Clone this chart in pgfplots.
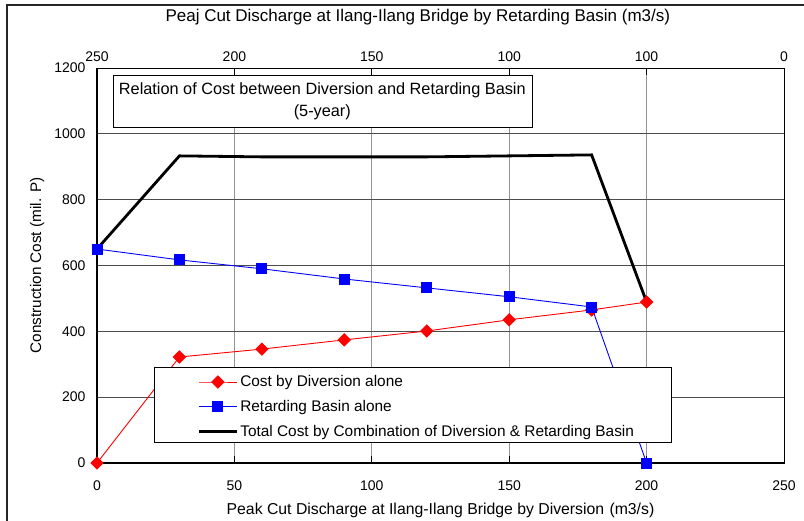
\documentclass[border=0pt]{standalone}
\usepackage{pgfplots}
\pgfplotsset{compat=1.18}
\usepackage{fontspec}
\setmainfont{Liberation Sans}
\begin{document}
\begin{tikzpicture}[x=1pt,y=1pt]
\useasboundingbox (0,0) rectangle (804,521);
\draw[line width=1.3pt, black!85] (7,-2) -- (7,516) -- (806,516);
\pgfplotsset{
  every tick label/.append style={font=\fontsize{14}{16}\selectfont},
  /pgf/number format/assume math mode=true,
}
\begin{axis}[
  at={(97pt,58pt)}, anchor=south west,
  scale only axis, width=687pt, height=395pt,
  xmin=0, xmax=250, ymin=0, ymax=1200,
  xtick={0,50,...,250}, ytick={0,200,...,1200},
  /pgf/number format/1000 sep={},
  xmajorgrids, ymajorgrids,
  x grid style={gray!85, line width=0.8pt},
  y grid style={black!70, line width=0.8pt},
  axis line style={black, line width=0.8pt},
  tick align=inside,
  xtick style={black, line width=0.8pt},
  ytick style={draw=none},
  major tick length=7pt,
  xticklabel style={yshift=-14.5pt},
  yticklabel style={xshift=-8pt},
  xlabel={Peak Cut Discharge at Ilang-Ilang Bridge by Diversion\,\,(m3/s)},
  xlabel style={at={(axis description cs:0.5,-0.119)}, anchor=center, font=\fontsize{15.8}{18}\selectfont},
  ylabel={Construction Cost (mil. P)},
  ylabel style={at={(axis description cs:-0.087,0.5)}, anchor=center, rotate=0, font=\fontsize{15.3}{17}\selectfont},
  clip=false,
  legend style={at={(axis cs:36.5,272)}, anchor=north west, draw=none, fill=none,
    font=\fontsize{15.4}{17}\selectfont, row sep=8pt, inner sep=0pt},
  legend cell align=left,
  legend image code/.code={\draw[mark repeat=2, mark phase=2] plot coordinates {(0pt,0pt) (19pt,0pt) (38pt,0pt)};},
]
\addplot[red, line width=0.9pt, mark=square*, mark size=4.3pt, mark options={solid, fill=red, draw=red, rotate=45}]
  coordinates {(0,0) (30,322) (60,346) (90,374) (120,401) (150,435) (180,465) (200,489)};
\addlegendentry{Cost by Diversion alone}
\addplot[blue, line width=0.9pt, mark=square*, mark size=5pt, mark options={solid, fill=blue, draw=blue}]
  coordinates {(0,650) (30,617) (60,590) (90,559) (120,532) (150,505) (180,474) (200,0)};
\addlegendentry{Retarding Basin alone}
\addplot[black, line width=2.8pt, mark=none]
  coordinates {(0,650) (30,933) (60,930) (90,930) (120,930) (150,933) (180,936) (200,489)};
\addlegendentry{Total Cost by Combination of Diversion \& Retarding Basin}
\draw[black, line width=2.4pt] (axis cs:0,1200) -- (axis cs:0,0) -- (axis cs:250,0);
\draw[black, line width=0.8pt, fill=white] (axis cs:5.8,1176) rectangle (axis cs:158.3,1021);
\node[align=center, font=\fontsize{16.3}{22}\selectfont] at (axis cs:82,1098)
  {Relation of Cost between Diversion and Retarding Basin\\(5-year)};
\draw[black, line width=0.8pt, fill=white] (axis cs:20.8,289) rectangle (axis cs:209,64);
\end{axis}
\begin{axis}[
  at={(97pt,58pt)}, anchor=south west,
  scale only axis, width=687pt, height=395pt,
  xmin=0, xmax=250, ymin=0, ymax=1200,
  axis x line*=top, axis y line=none,
  xtick={0,50,...,250},
  xticklabels={250,200,150,100,100,0},
  major tick length=0pt,
  axis line style={black, line width=0.8pt},
  xticklabel style={yshift=3pt},
  xlabel={Peaj Cut Discharge at Ilang-Ilang Bridge by Retarding Basin (m3/s)},
  xlabel style={at={(axis description cs:0.467,1.129)}, anchor=center, font=\fontsize{17}{19}\selectfont},
]
\end{axis}
\end{tikzpicture}
\end{document}
